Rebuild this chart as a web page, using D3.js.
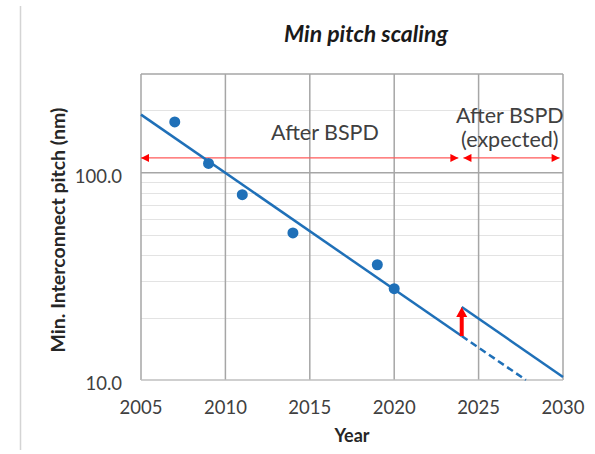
<!DOCTYPE html>
<html>
<head>
<meta charset="utf-8">
<script src="https://cdn.jsdelivr.net/npm/d3@7/dist/d3.min.js"></script>
<style>
  html, body { margin: 0; padding: 0; background: #fff; }
  svg { display: block; }
  text { font-family: Lato, "Open Sans", sans-serif; }
</style>
</head>
<body>
<svg id="chart" width="595" height="454"></svg>
<script>
// Measured interconnect pitch by year (nm)
const years = [2007, 2009, 2011, 2014, 2019, 2020];
const pitch = [176, 111, 78.4, 51.3, 36.0, 27.6];

// Scaling trend: fitted line through the history, its extrapolation,
// and the line shifted up once backside power delivery arrives
const trendSolid = [[2005, 191], [2024, 16.3]];
const trendDashed = [[2024, 16.3], [2027.8, 10]];
const trendShifted = [[2024, 22.5], [2030, 10.35]];

// Relaxation step at the BSPD transition (from / to pitch)
const stepYear = 2024;
const stepFrom = 16.3;
const stepTo = 22.5;

// Period annotations: [start year, end year] with labels
const periodLevel = 118;
const periods = [[2005, 2023.8], [2024.1, 2029.8]];
const periodLabels = [
  { year: 2015.9, value: 144, lines: ["After BSPD"] },
  { year: 2026.85, value: 174, lines: ["After BSPD", "(expected)"] }
];

// Axis ticks
const xTicks = [2005, 2010, 2015, 2020, 2025, 2030];
const yMajorTicks = [10, 100];
const yMinorTicks = [20, 30, 40, 50, 60, 70, 80, 90, 200];

const svg = d3.select("#chart");

const x = d3.scaleLinear().domain([2005, 2030]).range([141, 563]);
const y = d3.scaleLog().domain([10, 300]).range([380, 74]);

const blue = "#1f70b8";
const red = "#ff0000";

// page frame line on the left
svg.append("line")
  .attr("x1", 20.5).attr("x2", 20.5).attr("y1", 6).attr("y2", 450)
  .attr("stroke", "#d4d4d4").attr("stroke-width", 1.5);

// minor horizontal gridlines
svg.append("g").selectAll("line").data(yMinorTicks).join("line")
  .attr("x1", x(2005)).attr("x2", x(2030))
  .attr("y1", d => Math.round(y(d)) + 0.5).attr("y2", d => Math.round(y(d)) + 0.5)
  .attr("stroke", "#e3e3e3").attr("stroke-width", 1);

// major horizontal gridline at 100 and top border
svg.append("g").selectAll("line").data([100, 300]).join("line")
  .attr("x1", x(2005)).attr("x2", x(2030))
  .attr("y1", d => y(d)).attr("y2", d => y(d))
  .attr("stroke", "#a6a6a6").attr("stroke-width", 1.5);

// vertical gridlines
svg.append("g").selectAll("line").data(xTicks).join("line")
  .attr("x1", d => x(d)).attr("x2", d => x(d))
  .attr("y1", y(300)).attr("y2", y(10))
  .attr("stroke", "#a6a6a6").attr("stroke-width", 1.5);

// bottom axis line
svg.append("line")
  .attr("x1", x(2005)).attr("x2", x(2030)).attr("y1", y(10)).attr("y2", y(10))
  .attr("stroke", "#bfbfbf").attr("stroke-width", 1.5);

// x tick labels
svg.append("g").selectAll("text").data(xTicks).join("text")
  .attr("x", d => x(d)).attr("y", 413.5)
  .attr("text-anchor", "middle")
  .attr("font-size", 18.5).attr("fill", "#404040")
  .text(d => d);

// y tick labels
svg.append("g").selectAll("text").data(yMajorTicks).join("text")
  .attr("x", 122).attr("y", d => y(d) + 10)
  .attr("text-anchor", "end")
  .attr("font-size", 18.5).attr("fill", "#404040")
  .text(d => d3.format(".1f")(d));

// axis titles
svg.append("text")
  .attr("x", 352).attr("y", 442)
  .attr("text-anchor", "middle")
  .attr("font-size", 18).attr("font-weight", 700).attr("fill", "#262626")
  .text("Year");

svg.append("text")
  .attr("transform", "translate(65,230) rotate(-90)")
  .attr("text-anchor", "middle")
  .attr("font-size", 19.5).attr("font-weight", 700).attr("fill", "#262626")
  .text("Min. Interconnect pitch (nm)");

// chart title
svg.append("text")
  .attr("x", 366).attr("y", 41.5)
  .attr("text-anchor", "middle")
  .attr("font-size", 23).attr("font-weight", 700).attr("font-style", "italic")
  .attr("fill", "#1a1a1a")
  .text("Min pitch scaling");

// period arrows
const defs = svg.append("defs");
defs.append("marker")
  .attr("id", "head").attr("viewBox", "0 0 10 10")
  .attr("refX", 10).attr("refY", 5)
  .attr("markerWidth", 9).attr("markerHeight", 8)
  .attr("markerUnits", "userSpaceOnUse")
  .attr("orient", "auto-start-reverse")
  .append("path").attr("d", "M0,0 L10,5 L0,10 Z").attr("fill", red);

svg.append("g").selectAll("line").data(periods).join("line")
  .attr("x1", d => x(d[0])).attr("x2", d => x(d[1]))
  .attr("y1", y(periodLevel)).attr("y2", y(periodLevel))
  .attr("stroke", "#ff5a5a").attr("stroke-width", 1.2)
  .attr("marker-start", "url(#head)").attr("marker-end", "url(#head)");

// period labels
const lbl = svg.append("g").selectAll("text").data(periodLabels).join("text")
  .attr("x", d => x(d.year)).attr("y", d => y(d.value))
  .attr("text-anchor", "middle")
  .attr("font-size", 21.5).attr("fill", "#404040");
lbl.selectAll("tspan").data(d => d.lines.map((t, i) => ({ t, i, d }))).join("tspan")
  .attr("x", o => x(o.d.year)).attr("dy", o => o.i === 0 ? 0 : 24)
  .text(o => o.t);

// trend lines
const line = d3.line().x(d => x(d[0])).y(d => y(d[1]));
svg.append("path").datum(trendSolid).attr("d", line)
  .attr("fill", "none").attr("stroke", blue).attr("stroke-width", 2.5);
svg.append("path").datum(trendDashed).attr("d", line)
  .attr("fill", "none").attr("stroke", blue).attr("stroke-width", 2.5)
  .attr("stroke-dasharray", "7,4");
svg.append("path").datum(trendShifted).attr("d", line)
  .attr("fill", "none").attr("stroke", blue).attr("stroke-width", 2.5);

// data points
svg.append("g").selectAll("circle").data(years).join("circle")
  .attr("cx", d => x(d)).attr("cy", (d, i) => y(pitch[i]))
  .attr("r", 5.5).attr("fill", blue);

// step arrow from the trend to the relaxed pitch
const sx = x(stepYear), y0 = y(stepFrom), y1 = y(stepTo);
const headLen = 10, headHalf = 5.5, shaftHalf = 2;
svg.append("path")
  .attr("d", `M${sx - shaftHalf},${y0} L${sx - shaftHalf},${y1 + headLen} L${sx - headHalf},${y1 + headLen}
              L${sx},${y1} L${sx + headHalf},${y1 + headLen} L${sx + shaftHalf},${y1 + headLen}
              L${sx + shaftHalf},${y0} Z`)
  .attr("fill", red);
</script>
</body>
</html>
